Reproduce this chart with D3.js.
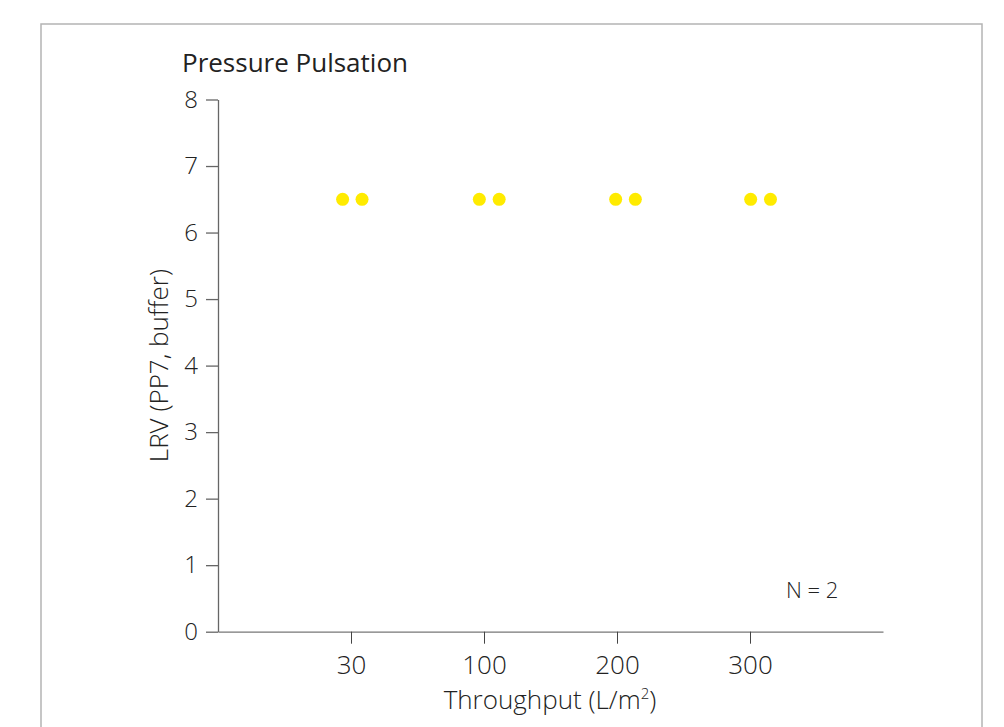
<!DOCTYPE html>
<html>
<head>
<meta charset="utf-8">
<script src="https://cdn.jsdelivr.net/npm/d3@7"></script>
<style>
  body { margin: 0; background: #fff; }
  svg text { font-family: "Open Sans", "Noto Sans", sans-serif; fill: #222; }
</style>
</head>
<body>
<svg id="chart"></svg>
<script>
const width = 1004;
const height = 727;

// data
const categories = ["30", "100", "200", "300"];
const pointPos = [0.937, 1.083, 1.965, 2.114, 2.99, 3.138, 4.005, 4.154];
const pointLRV = [6.5, 6.5, 6.5, 6.5, 6.5, 6.5, 6.5, 6.5];
const yTicks = [0, 1, 2, 3, 4, 5, 6, 7, 8];

const margin = {top: 99.5, right: 121, bottom: 95.3, left: 218};

const svg = d3.select("#chart")
    .attr("width", width)
    .attr("height", height);

// outer frame
svg.append("rect")
    .attr("x", 41)
    .attr("y", 24)
    .attr("width", 941)
    .attr("height", 760)
    .attr("fill", "none")
    .attr("stroke", "#b4b4b4")
    .attr("stroke-width", 1.5);

const xScale = d3.scaleLinear()
    .domain([0, categories.length + 1])
    .range([margin.left, width - margin.right]);

const yScale = d3.scaleLinear()
    .domain([0, 8])
    .range([height - margin.bottom, margin.top]);

const g = svg.append("g");

// y axis
const yAxis = g.append("g")
    .attr("transform", `translate(${margin.left},0)`)
    .call(d3.axisLeft(yScale).tickValues(yTicks).tickSize(12).tickPadding(8).tickSizeOuter(0));
yAxis.select(".domain").attr("stroke", "#666").attr("stroke-width", 1.3);
yAxis.selectAll(".tick line").attr("stroke", "#666").attr("stroke-width", 1.3);
yAxis.selectAll(".tick text")
    .attr("font-size", 24)
    .attr("font-weight", 300)
    .attr("fill", "#222");

// x axis
const xAxis = g.append("g")
    .attr("transform", `translate(0,${height - margin.bottom})`)
    .call(d3.axisBottom(xScale)
        .tickValues(d3.range(1, categories.length + 1))
        .tickFormat((d, i) => categories[i])
        .tickSize(12).tickPadding(12).tickSizeOuter(0));
xAxis.select(".domain").attr("stroke", "#777").attr("stroke-width", 1.3);
xAxis.selectAll(".tick line").attr("stroke", "#444").attr("stroke-width", 1);
xAxis.selectAll(".tick text")
    .attr("font-size", 26)
    .attr("font-weight", 300)
    .attr("fill", "#222");

// points
g.append("g")
    .selectAll("circle")
    .data(pointPos)
    .join("circle")
    .attr("cx", d => xScale(d))
    .attr("cy", (d, i) => yScale(pointLRV[i]))
    .attr("r", 6.5)
    .attr("fill", "#ffeb00");

// title
svg.append("text")
    .attr("x", 182)
    .attr("y", 72)
    .attr("font-size", 26)
    .attr("font-weight", 500)
    .text("Pressure Pulsation");

// axis titles
svg.append("text")
    .attr("transform", `translate(168,${yScale(4)}) rotate(-90)`)
    .attr("text-anchor", "middle")
    .attr("font-size", 26)
    .attr("font-weight", 300)
    .text("LRV (PP7, buffer)");

const xTitle = svg.append("text")
    .attr("x", 550)
    .attr("y", 709)
    .attr("text-anchor", "middle")
    .attr("font-size", 26)
    .attr("font-weight", 300);
xTitle.append("tspan").text("Throughput (L/m");
xTitle.append("tspan").attr("font-size", 15).attr("dy", -10).text("2");
xTitle.append("tspan").attr("dy", 10).text(")");

svg.append("text")
    .attr("x", 786)
    .attr("y", 598)
    .attr("font-size", 22)
    .attr("font-weight", 300)
    .text("N = 2");
</script>
</body>
</html>
